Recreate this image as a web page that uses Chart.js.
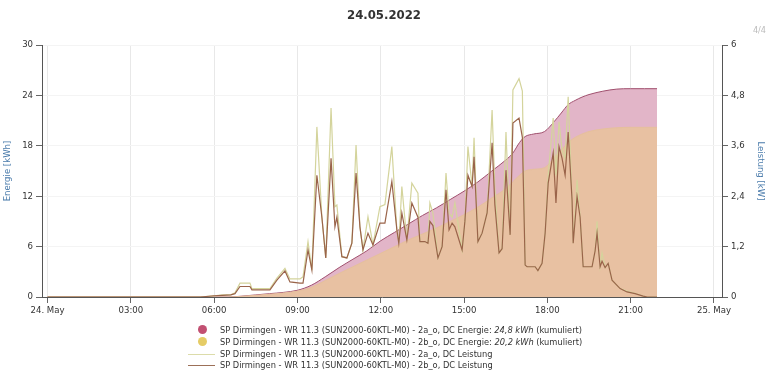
<!DOCTYPE html>
<html>
<head>
<meta charset="utf-8">
<script src="https://cdn.jsdelivr.net/npm/chart.js@4"></script>
<style>
  body { margin: 0; background: #fff; font-family: 'Liberation Sans Narrow', 'DejaVu Sans Condensed', sans-serif; }
  #wrap { position: relative; width: 768px; height: 384px; }
  #pager { position: absolute; right: 2px; top: 25px; font-size: 9px; color: #bbb; }
  #legend { position: absolute; left: 188px; top: 324px; font-size: 9.2px; color: #333; line-height: 11.8px; }
  .row { display: flex; align-items: center; height: 11.8px; white-space: nowrap; }
  .sym { width: 32px; height: 12px; position: relative; }
  .dot { position: absolute; left: 10px; top: 1.5px; width: 9px; height: 9px; border-radius: 50%; }
  .ln { position: absolute; left: 0; top: 6px; width: 27px; height: 1px; }
</style>
</head>
<body>
<div id="wrap">
  <canvas id="chart" width="768" height="384"></canvas>
  <div id="pager">4/4</div>
  <div id="legend">
    <div class="row"><span class="sym"><span class="dot" style="background:#c25072"></span></span>SP Dirmingen - WR 11.3 (SUN2000-60KTL-M0) - 2a_o, DC Energie:&nbsp;<i>24,8 kWh</i>&nbsp;(kumuliert)</div>
    <div class="row"><span class="sym"><span class="dot" style="background:#e5cc66"></span></span>SP Dirmingen - WR 11.3 (SUN2000-60KTL-M0) - 2b_o, DC Energie:&nbsp;<i>20,2 kWh</i>&nbsp;(kumuliert)</div>
    <div class="row"><span class="sym"><span class="ln" style="background:#dcdcaa"></span></span>SP Dirmingen - WR 11.3 (SUN2000-60KTL-M0) - 2a_o, DC Leistung</div>
    <div class="row"><span class="sym"><span class="ln" style="background:#9c7058"></span></span>SP Dirmingen - WR 11.3 (SUN2000-60KTL-M0) - 2b_o, DC Leistung</div>
  </div>
</div>
<script>
// hours of the day
const xTicks = [0, 3, 6, 9, 12, 15, 18, 21, 24]

// cumulative energy (kWh)
const energyTimes = [0, 6.5, 7, 7.5, 8, 8.5, 9, 9.5, 10, 10.5, 11, 11.5, 12, 12.5, 13, 13.5, 14, 14.5, 15, 15.5, 16, 16.5, 16.75, 17, 17.2, 17.5, 17.9, 18.25, 18.5, 18.75, 19, 19.25, 19.5, 20, 20.5, 21, 21.5, 21.95]
const energy2a = [0, 0, 0.1, 0.25, 0.4, 0.55, 0.8, 1.4, 2.4, 3.5, 4.5, 5.5, 6.7, 7.7, 8.7, 9.7, 10.6, 11.6, 12.6, 13.7, 15.0, 16.3, 17.1, 18.4, 19.1, 19.4, 19.7, 20.9, 21.9, 22.9, 23.4, 23.8, 24.1, 24.5, 24.75, 24.8, 24.8, 24.8]
const energy2b = [0, 0, 0.08, 0.2, 0.33, 0.47, 0.7, 1.15, 1.95, 2.8, 3.6, 4.4, 5.2, 6.0, 6.8, 7.5, 8.2, 9.0, 9.8, 10.7, 11.8, 12.9, 13.7, 14.5, 15.0, 15.2, 15.4, 16.6, 17.5, 18.4, 19.0, 19.4, 19.7, 20.0, 20.15, 20.2, 20.2, 20.2]

// DC power (kW)
const powerTimes = [0, 5.5, 6.0, 6.3, 6.6, 6.75, 6.93, 7.29, 7.36, 8.01, 8.26, 8.55, 8.73, 9.09, 9.2, 9.38, 9.52, 9.70, 9.88, 10.02, 10.21, 10.35, 10.42, 10.60, 10.78, 10.96, 11.11, 11.25, 11.36, 11.54, 11.72, 11.97, 12.15, 12.40, 12.58, 12.65, 12.76, 12.94, 13.12, 13.34, 13.41, 13.59, 13.70, 13.77, 13.88, 14.06, 14.21, 14.35, 14.46, 14.57, 14.67, 14.93, 15.03, 15.14, 15.29, 15.36, 15.50, 15.65, 15.83, 16.01, 16.11, 16.26, 16.37, 16.51, 16.66, 16.76, 16.98, 17.10, 17.20, 17.27, 17.56, 17.66, 17.81, 17.92, 18.03, 18.21, 18.31, 18.42, 18.53, 18.64, 18.75, 18.89, 18.93, 19.07, 19.18, 19.29, 19.61, 19.72, 19.79, 19.90, 19.97, 20.08, 20.19, 20.33, 20.62, 20.87, 21.16, 21.45, 21.6, 21.95]
const power2a = [0, 0, 0.03, 0.05, 0.05, 0.1, 0.33, 0.33, 0.2, 0.2, 0.45, 0.68, 0.43, 0.43, 0.48, 1.32, 0.64, 4.05, 1.9, 0.93, 4.5, 2.15, 2.19, 0.96, 0.93, 1.28, 3.62, 1.67, 1.12, 1.91, 1.24, 2.15, 2.2, 3.58, 1.6, 1.28, 2.63, 1.36, 2.71, 2.47, 1.32, 1.32, 1.28, 2.24, 2.0, 0.93, 1.2, 2.95, 2.0, 1.9, 2.24, 1.12, 1.8, 3.58, 2.63, 3.79, 1.32, 1.52, 2.0, 4.45, 2.6, 1.05, 1.15, 3.93, 1.48, 4.93, 5.2, 4.9, 0.76, 0.72, 0.72, 0.63, 0.8, 1.52, 2.9, 4.26, 2.9, 4.17, 3.5, 3.3, 4.77, 2.31, 1.28, 2.79, 1.9, 0.72, 0.72, 1.1, 1.8, 0.72, 1.05, 0.7, 0.8, 0.4, 0.2, 0.14, 0.09, 0.02, 0, 0]
const power2b = [0, 0, 0.03, 0.04, 0.05, 0.08, 0.25, 0.25, 0.17, 0.17, 0.4, 0.62, 0.36, 0.33, 0.33, 1.12, 0.64, 2.9, 1.9, 0.93, 3.3, 1.67, 1.9, 0.96, 0.93, 1.28, 2.95, 1.67, 1.12, 1.52, 1.24, 1.76, 1.76, 2.75, 1.6, 1.28, 2.0, 1.36, 2.24, 1.9, 1.32, 1.32, 1.28, 1.8, 1.7, 0.93, 1.2, 2.55, 1.6, 1.76, 1.67, 1.12, 1.8, 2.9, 2.63, 3.34, 1.32, 1.52, 2.0, 3.67, 2.2, 1.05, 1.15, 3.02, 1.48, 4.14, 4.26, 3.8, 0.76, 0.72, 0.72, 0.63, 0.8, 1.52, 2.71, 3.43, 2.24, 3.58, 3.3, 2.9, 3.93, 2.31, 1.28, 2.39, 1.9, 0.72, 0.72, 1.1, 1.52, 0.72, 0.85, 0.7, 0.8, 0.4, 0.2, 0.12, 0.08, 0.02, 0, 0]

const font = "'Liberation Sans Narrow', 'DejaVu Sans Condensed', sans-serif"
const pts = (xs, ys) => xs.map((x, i) => ({ x: x, y: ys[i] }))
const pad = (n) => (n < 10 ? '0' : '') + n

new Chart(document.getElementById('chart'), {
  type: 'line',
  data: {
    datasets: [
      {
        label: '2b_o, DC Leistung',
        data: pts(powerTimes, power2b),
        yAxisID: 'y1',
        borderColor: '#9a644a',
        borderWidth: 1.2,
        pointRadius: 0,
        order: 0
      },
      {
        label: '2a_o, DC Leistung',
        data: pts(powerTimes, power2a),
        yAxisID: 'y1',
        borderColor: '#d4d49c',
        borderWidth: 1.2,
        pointRadius: 0,
        order: 1
      },
      {
        label: '2b_o, DC Energie',
        data: pts(energyTimes, energy2b),
        yAxisID: 'y',
        borderColor: '#e6c09c',
        backgroundColor: '#e8c1a2',
        borderWidth: 1,
        fill: 'origin',
        pointRadius: 0,
        cubicInterpolationMode: 'monotone',
        order: 2
      },
      {
        label: '2a_o, DC Energie',
        data: pts(energyTimes, energy2a),
        yAxisID: 'y',
        borderColor: '#a0506e',
        backgroundColor: '#e2b5c8',
        borderWidth: 1,
        fill: 'origin',
        pointRadius: 0,
        cubicInterpolationMode: 'monotone',
        order: 3
      }
    ]
  },
  options: {
    responsive: false,
    animation: false,
    devicePixelRatio: 1,
    layout: { padding: 0 },
    plugins: {
      legend: { display: false },
      tooltip: { enabled: false },
      title: {
        display: true,
        text: '24.05.2022',
        color: '#333',
        font: { family: font, size: 13, weight: 'bold' },
        padding: { top: 8, bottom: 21.4 }
      }
    },
    scales: {
      x: {
        type: 'linear',
        min: -0.2,
        max: 24.29,
        afterBuildTicks: (s) => { s.ticks = xTicks.map((v) => ({ value: v })) },
        afterFit: (s) => { s.height = 87 },
        grid: { color: '#e8e8e8', tickColor: '#666', tickLength: 6 },
        border: { color: '#555' },
        ticks: {
          color: '#333',
          font: { family: font, size: 9.5 },
          maxRotation: 0,
          padding: 2,
          callback: (v) => v === 0 ? '24. May' : v === 24 ? '25. May' : pad(v) + ':00'
        }
      },
      y: {
        position: 'left',
        min: 0,
        max: 30,
        afterFit: (s) => { s.width = 42 },
        grid: { color: '#f4f4f4', tickColor: '#666', tickLength: 6 },
        border: { color: '#555' },
        ticks: { stepSize: 6, color: '#333', font: { family: font, size: 9.5 }, padding: 3 },
        title: { display: true, text: 'Energie [kWh]', color: '#4a7bab', font: { family: font, size: 9.5 }, padding: { top: 2, bottom: 0 } }
      },
      y1: {
        position: 'right',
        min: 0,
        max: 6,
        afterFit: (s) => { s.width = 46 },
        grid: { drawOnChartArea: false, tickColor: '#666', tickLength: 6 },
        border: { color: '#555' },
        ticks: {
          stepSize: 1.2,
          color: '#333',
          font: { family: font, size: 9.5 },
          padding: 3,
          callback: (v) => String(Math.round(v * 10) / 10).replace('.', ',')
        },
        title: { display: true, text: 'Leistung [kW]', color: '#4a7bab', font: { family: font, size: 9.5 }, padding: { top: 2, bottom: 0 } }
      }
    }
  }
})
</script>
</body>
</html>
